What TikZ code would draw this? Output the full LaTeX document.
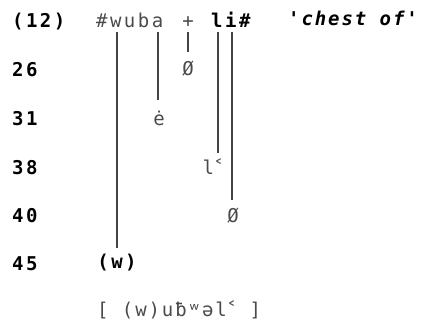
\documentclass[tikz,border=0pt]{standalone}
\usepackage{fontspec}
\newfontfamily\tw[LetterSpace=13]{DejaVu Sans Mono}
\newfontfamily\twx[LetterSpace=10]{DejaVu Sans Mono}
\newfontfamily\dvs{DejaVu Sans}
\newcommand{\larr}{{\dvs ˂}}
\definecolor{inkgray}{HTML}{4a4a4a}
\definecolor{linegray}{HTML}{444444}
\tikzset{
  txt/.style={inner sep=0pt, anchor=base west, font=\tw\bfseries\fontsize{19}{22}\selectfont},
  gtxt/.style={inner sep=0pt, anchor=base west, text=inkgray, font=\tw\fontsize{19}{22}\selectfont},
  ctxt/.style={inner sep=0pt, anchor=base, font=\tw\bfseries\fontsize{19}{22}\selectfont},
  gctxt/.style={inner sep=0pt, anchor=base, text=inkgray, font=\tw\fontsize{19}{22}\selectfont},
  deriv/.style={draw=linegray, line width=1.4pt},
}
\begin{document}
\begin{tikzpicture}[x=1pt,y=-1pt]
\useasboundingbox (0,0) rectangle (427,323);
% row labels
\node[txt] (r0) at (12,28) {(12)};
\node[txt] (r26) at (12,77) {26};
\node[txt] (r31) at (12,125) {31};
\node[txt] (r38) at (12,174) {38};
\node[txt] (r40) at (12,222) {40};
\node[txt] (r45) at (12,270) {45};
% underlying form
\node[gtxt] (uf) at (96,28) {\#wuba};
\node[gctxt] (plus) at (188,28) {+};
\node[txt] (li) at (211,28) {li\#};
\node[txt, font=\twx\bfseries\itshape\fontsize{19}{22}\selectfont] (gloss) at (288,26) {'chest of'};
% line tops
\coordinate (t1) at (117,32);
\coordinate (t2) at (158,32);
\coordinate (t3) at (188,32);
\coordinate (t4) at (218,32);
\coordinate (t5) at (232,32);
% outputs
\node[gctxt] (z26) at (188,76) {Ø};
\node[gctxt] (e31) at (159,125) {ė};
\node[gctxt] (l38) at (213,174) {l\larr};
\node[gctxt] (z40) at (233,222) {Ø};
\node[ctxt] (w45) at (117,268) {(w)};
% lines
\coordinate (b1) at (117,248);
\coordinate (b2) at (158,100);
\coordinate (b3) at (188,52);
\coordinate (b4) at (218,153);
\coordinate (b5) at (232,200);
\draw[deriv] (t1) -- (b1);
\draw[deriv] (t2) -- (b2);
\draw[deriv] (t3) -- (b3);
\draw[deriv] (t4) -- (b4);
\draw[deriv] (t5) -- (b5);
% surface form
\node[gtxt, font=\twx\fontsize{19}{22}\selectfont] (sf) at (97,316) {[ (w)uƀʷəl\larr{} ]};
\end{tikzpicture}
\end{document}
